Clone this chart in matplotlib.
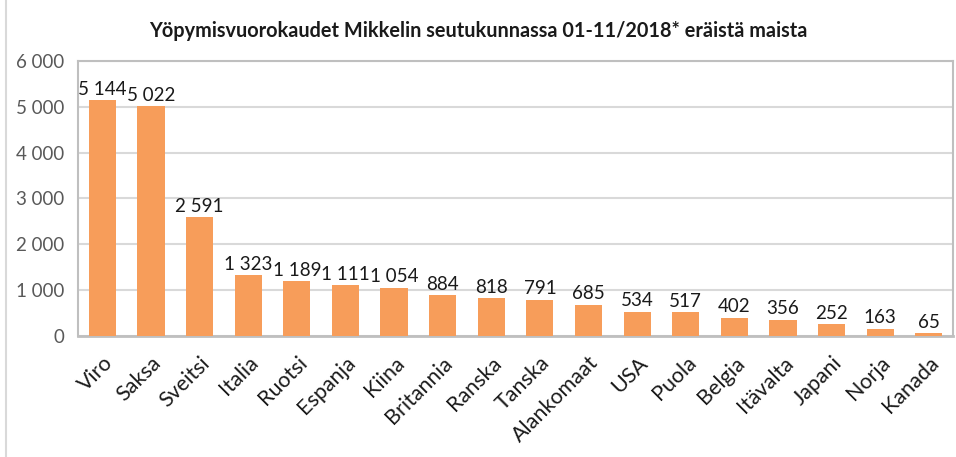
import matplotlib
matplotlib.use('Agg')
import matplotlib.pyplot as plt
from matplotlib.lines import Line2D
from matplotlib.ticker import FuncFormatter

countries = ['Viro', 'Saksa', 'Sveitsi', 'Italia', 'Ruotsi', 'Espanja', 'Kiina',
             'Britannia', 'Ranska', 'Tanska', 'Alankomaat', 'USA', 'Puola',
             'Belgia', 'Itävalta', 'Japani', 'Norja', 'Kanada']
nights = [5144, 5022, 2591, 1323, 1189, 1111, 1054, 884, 818, 791, 685, 534,
          517, 402, 356, 252, 163, 65]

title = 'Yöpymisvuorokaudet Mikkelin seutukunnassa 01-11/2018* eräistä maista'

plt.rcParams['font.family'] = ['Lato', 'DejaVu Sans']


def fmt(v):
    return f'{int(v):,}'.replace(',', ' ')


fig = plt.figure(figsize=(9.56, 4.57), dpi=100)
ax = fig.add_axes([0.0816, 0.2648, 0.9154, 0.6017])

x = range(len(countries))
bars = ax.bar(x, nights, width=0.56, color='#F79D5A', zorder=3)

for i, v in enumerate(nights):
    ax.text(i, v + 50, fmt(v), ha='center', va='bottom', fontsize=13.5,
            color='#1a1a1a', zorder=4)

ax.set_ylim(0, 6000)
ax.set_xlim(-0.5, len(countries) - 0.5)
ax.set_yticks(range(0, 6001, 1000))
ax.yaxis.set_major_formatter(FuncFormatter(lambda v, p: fmt(v)))
ax.grid(axis='y', color='#d9d9d9', linewidth=1.5, zorder=0)

ax.set_xticks(list(x))
ax.set_xticklabels(countries, rotation=45, ha='right', rotation_mode='anchor',
                   fontsize=15.5, color='#1a1a1a')
ax.tick_params(axis='x', length=0, pad=12)
ax.tick_params(axis='y', length=0, labelsize=13.5, labelcolor='#595959', pad=10)

for side in ['top', 'right', 'left']:
    ax.spines[side].set_color('#bfbfbf')
    ax.spines[side].set_linewidth(1.5)
ax.spines['bottom'].set_color('#bfbfbf')
ax.spines['bottom'].set_linewidth(2)

fig.text(0.5, 0.932, title, ha='center', va='center', fontsize=14.3,
         fontweight='bold', color='#1a1a1a')

fig.add_artist(Line2D([0.006, 0.006], [0.0, 1.0], color='#d9d9d9',
                      linewidth=1.5, transform=fig.transFigure))

fig.savefig('out.png', dpi=100)
